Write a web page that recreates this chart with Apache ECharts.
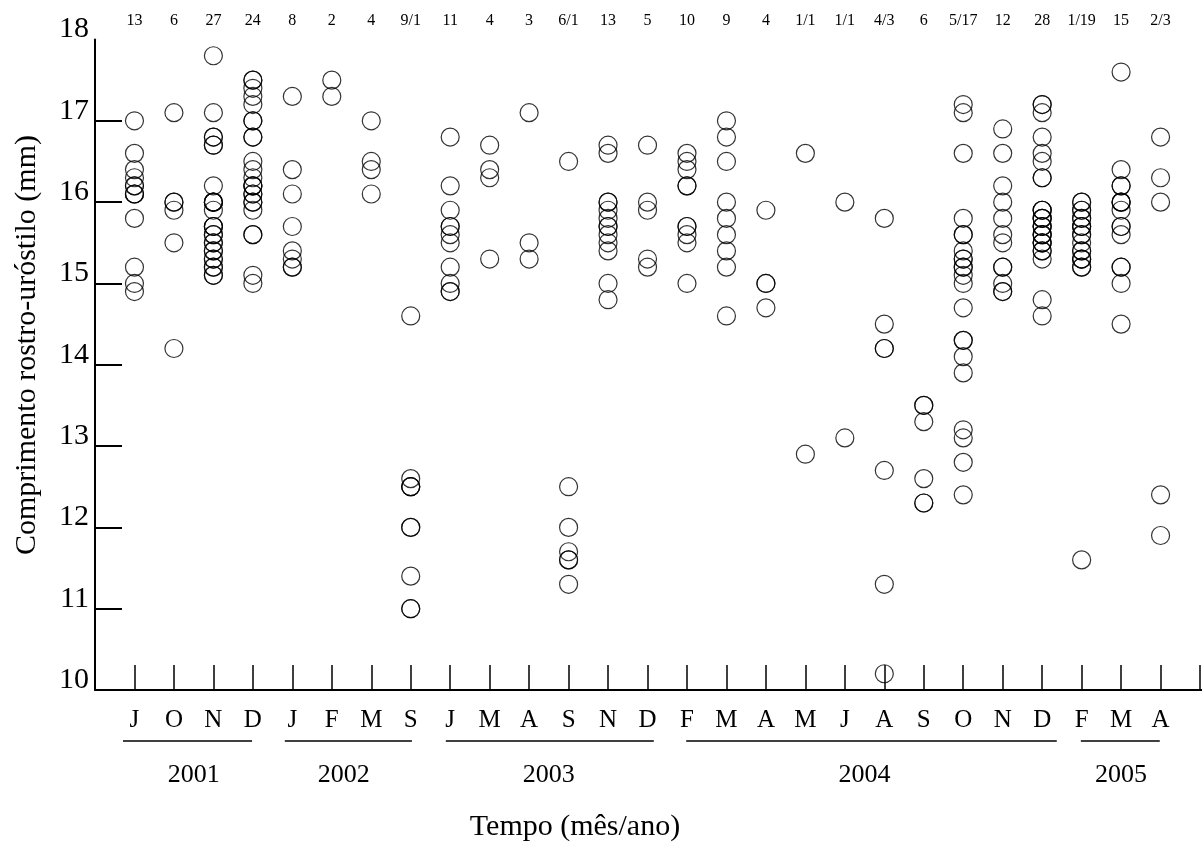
<!DOCTYPE html>
<html lang="pt">
<head>
<meta charset="UTF-8">
<title>Comprimento rostro-uróstilo</title>
<script src="https://cdn.jsdelivr.net/npm/echarts@6/dist/echarts.min.js"></script>
<style>
  html, body { margin: 0; padding: 0; background: #fff; }
  #chart { width: 1202px; height: 844px; }
</style>
</head>
<body>
<div id="chart"></div>
<script>
// meses amostrados (eixo x)
var months = ['J','O','N','D','J','F','M','S','J','M','A','S','N','D','F','M','A','M','J','A','S','O','N','D','F','M','A'];
// n por mes (topo)
var counts = ['13','6','27','24','8','2','4','9/1','11','4','3','6/1','13','5','10','9','4','1/1','1/1','4/3','6','5/17','12','28','1/19','15','2/3'];
var yearNames = ['2001','2002','2003','2004','2005'];
var yearCenters = [2.5, 6.3, 11.5, 19.5, 26];
var yearSpans = [[0.71, 3.98], [4.81, 8.03], [8.89, 14.16], [14.98, 24.37], [24.98, 26.98]];

// comprimento (mm) de cada individuo, por mes
var lengths = [
  [17.0,16.6,16.4,16.3,16.2,16.2,16.1,16.1,16.1,15.8,15.2,15.0,14.9],
  [17.1,16.0,16.0,15.9,15.5,14.2],
  [17.8,17.1,16.8,16.8,16.7,16.7,16.2,16.0,16.0,16.0,15.9,15.7,15.7,15.7,15.6,15.6,15.5,15.5,15.4,15.4,15.3,15.3,15.2,15.2,15.1,15.1,16.0],
  [17.5,17.5,17.4,17.3,17.2,17.0,17.0,16.8,16.8,16.5,16.4,16.3,16.2,16.2,16.2,16.1,16.1,16.0,16.0,15.9,15.6,15.6,15.1,15.0],
  [17.3,16.4,16.1,15.7,15.4,15.3,15.2,15.2],
  [17.5,17.3],
  [17.0,16.5,16.4,16.1],
  [14.6,12.6,12.5,12.5,12.0,12.0,11.4,11.0,11.0,12.5],
  [16.8,16.2,15.9,15.7,15.7,15.6,15.5,15.2,15.0,14.9,14.9],
  [16.7,16.4,16.3,15.3],
  [17.1,15.5,15.3],
  [16.5,12.5,12.0,11.7,11.6,11.6,11.3],
  [16.7,16.6,16.0,16.0,15.9,15.8,15.7,15.7,15.6,15.5,15.4,15.0,14.8],
  [16.7,16.0,15.9,15.3,15.2],
  [16.6,16.5,16.4,16.2,16.2,15.7,15.7,15.6,15.5,15.0],
  [17.0,16.8,16.5,16.0,15.8,15.6,15.4,15.2,14.6],
  [15.9,15.0,15.0,14.7],
  [16.6,12.9],
  [16.0,13.1],
  [15.8,14.5,14.2,14.2,12.7,11.3,10.2],
  [13.5,13.5,13.3,12.6,12.3,12.3],
  [17.2,17.1,16.6,15.8,15.6,15.6,15.4,15.3,15.3,15.2,15.2,15.1,15.0,14.7,14.3,14.3,14.1,13.9,13.2,13.1,12.8,12.4],
  [16.9,16.6,16.2,16.0,15.8,15.6,15.5,15.2,15.2,15.0,14.9,14.9],
  [17.2,17.2,17.1,16.8,16.6,16.5,16.3,16.3,15.9,15.9,15.9,15.8,15.8,15.8,15.7,15.7,15.7,15.6,15.6,15.6,15.5,15.5,15.5,15.4,15.4,15.3,14.8,14.6],
  [16.0,16.0,15.9,15.9,15.8,15.8,15.7,15.7,15.7,15.6,15.6,15.5,15.4,15.4,15.3,15.3,15.3,15.2,15.2,11.6],
  [17.6,16.4,16.2,16.2,16.0,16.0,16.0,15.9,15.7,15.7,15.6,15.2,15.2,15.0,14.5],
  [16.8,16.3,16.0,12.4,11.9]
];

var serif = 'Liberation Serif';
var monthTicks = [];
var xTicks = [];
var points = [];
for (var i = 0; i < months.length; i++) {
    monthTicks.push(i + 1);
    for (var j = 0; j < lengths[i].length; j++) {
        points.push([i + 1, lengths[i][j]]);
    }
}
for (var k = 1; k <= 28; k++) xTicks.push(k);

var chart = echarts.init(document.getElementById('chart'));
var option = {
    animation: false,
    backgroundColor: '#fff',
    grid: { left: 95, right: 0, top: 39.5, bottom: 154 },
    xAxis: [
        {
            type: 'value', min: 0, max: 28.05, position: 'bottom',
            axisLine: { show: true, lineStyle: { color: '#000', width: 2 } },
            axisTick: { show: true, inside: true, length: 25, customValues: xTicks, lineStyle: { color: '#000', width: 1.5 } },
            axisLabel: {
                customValues: monthTicks, margin: 18, color: '#000', fontFamily: serif, fontSize: 25,
                formatter: function (v) { return months[v - 1]; }
            },
            splitLine: { show: false }
        },
        {
            type: 'value', min: 0, max: 28.05, position: 'bottom',
            axisLine: { show: false }, axisTick: { show: false },
            axisLabel: {
                customValues: yearCenters, margin: 72, color: '#000', fontFamily: serif, fontSize: 26,
                formatter: function (v) { return yearNames[yearCenters.indexOf(v)]; }
            },
            splitLine: { show: false }
        },
        {
            type: 'value', min: 0, max: 28.05, position: 'top',
            axisLine: { show: false }, axisTick: { show: false },
            axisLabel: {
                customValues: monthTicks, margin: 11, color: '#000', fontFamily: serif, fontSize: 16,
                formatter: function (v) { return counts[v - 1]; }
            },
            splitLine: { show: false }
        }
    ],
    yAxis: {
        type: 'value', min: 10, max: 18, interval: 1,
        axisLine: { show: true, lineStyle: { color: '#000', width: 2 } },
        axisTick: { show: true, inside: true, length: 27, customValues: [10, 11, 12, 13, 14, 15, 16, 17], lineStyle: { color: '#000', width: 2 } },
        axisLabel: { color: '#000', fontFamily: serif, fontSize: 30, margin: 6, verticalAlign: 'bottom', lineHeight: 20 },
        splitLine: { show: false }
    },
    graphic: [
        {
            type: 'text', x: 27, y: 345, rotation: Math.PI / 2,
            style: { text: 'Comprimento rostro-uróstilo (mm)', font: '30px "Liberation Serif"', fill: '#000', align: 'center', verticalAlign: 'middle' }
        },
        {
            type: 'text', x: 575, y: 827,
            style: { text: 'Tempo (mês/ano)', font: '30px "Liberation Serif"', fill: '#000', align: 'center', verticalAlign: 'middle' }
        }
    ],
    series: [
        {
            type: 'scatter',
            xAxisIndex: 0,
            data: points,
            symbol: 'circle',
            symbolSize: 18,
            itemStyle: { color: 'rgba(0,0,0,0)', borderColor: '#000', borderWidth: 1.2 },
            emphasis: { disabled: true }
        },
        {
            // traços sob os meses de cada ano
            type: 'custom',
            xAxisIndex: 0,
            data: yearSpans,
            encode: { x: [0, 1] },
            silent: true,
            renderItem: function (params, api) {
                var a = api.coord([api.value(0), 10]);
                var b = api.coord([api.value(1), 10]);
                return {
                    type: 'line',
                    shape: { x1: a[0], y1: a[1] + 51, x2: b[0], y2: b[1] + 51 },
                    style: { stroke: '#000', lineWidth: 1.5 }
                };
            }
        }
    ]
};
chart.setOption(option);
</script>
</body>
</html>
